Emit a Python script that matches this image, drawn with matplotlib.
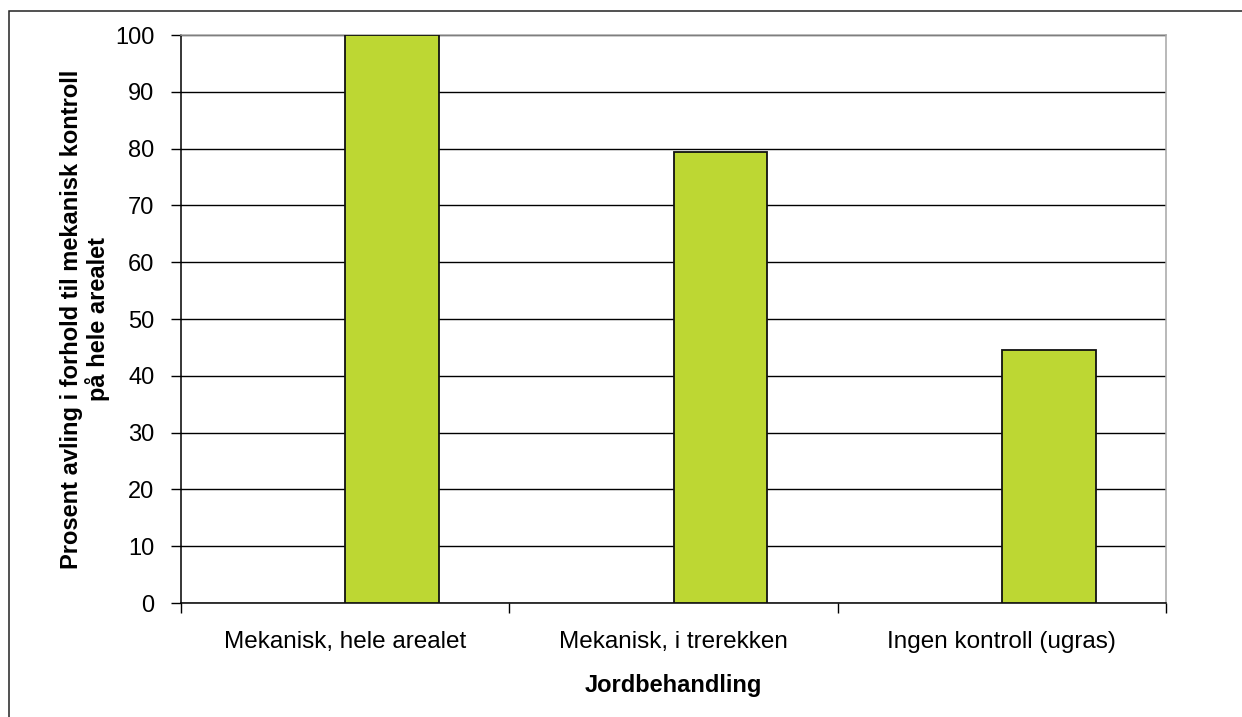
import matplotlib
matplotlib.use("Agg")
import matplotlib.pyplot as plt
from matplotlib.patches import Rectangle
from matplotlib.ticker import FixedLocator, NullFormatter

categories = ["Mekanisk, hele arealet", "Mekanisk, i trerekken", "Ingen kontroll (ugras)"]
values = [100.0, 79.4, 44.5]
y_ticks = [0, 10, 20, 30, 40, 50, 60, 70, 80, 90, 100]

plt.rcParams["font.family"] = ["Liberation Sans", "DejaVu Sans"]
FS = 17

W, H = 1242, 717
fig = plt.figure(figsize=(W / 100, H / 100), dpi=100)
ax = fig.add_axes([181 / W, (H - 603) / H, 985 / W, 568 / H])

# outer chart frame (left and top edges visible)
fig.patches.append(Rectangle((9 / W, -0.2), 1.5, (H - 11) / H + 0.2,
                             transform=fig.transFigure, fill=False,
                             edgecolor="#222222", linewidth=1.1))

x = list(range(len(categories)))
ax.bar(x, values, width=0.286, align="edge", color="#BDD733",
       edgecolor="#111111", linewidth=1.3, zorder=3)

ax.set_xlim(-0.5, len(categories) - 0.5)
ax.set_ylim(0, 100)
ax.set_yticks(y_ticks)
ax.tick_params(axis="y", direction="out", length=7, width=1, labelsize=FS, pad=12)

# category boundaries as tick marks, category names centred between them
ax.xaxis.set_major_locator(FixedLocator([i - 0.5 for i in range(len(categories) + 1)]))
ax.xaxis.set_major_formatter(NullFormatter())
ax.xaxis.set_minor_locator(FixedLocator(x))
ax.set_xticklabels(categories, minor=True)
ax.tick_params(axis="x", which="major", direction="out", length=7, width=1)
ax.tick_params(axis="x", which="minor", length=0, labelsize=FS + 0.5, pad=20)

ax.set_axisbelow(True)
ax.yaxis.grid(True, color="black", linewidth=1)

ax.spines["left"].set_color("black")
ax.spines["bottom"].set_color("black")
ax.spines["top"].set_color("#A6A6A6")
ax.spines["right"].set_color("#A6A6A6")
for s in ax.spines.values():
    s.set_linewidth(1.1)

ax.set_xlabel("Jordbehandling", fontsize=FS, fontweight="bold", labelpad=15)
ax.set_ylabel("Prosent avling i forhold til mekanisk kontroll\npå hele arealet",
              fontsize=FS, fontweight="bold", labelpad=4, linespacing=1.1)

fig.savefig("out.png", dpi=100)
